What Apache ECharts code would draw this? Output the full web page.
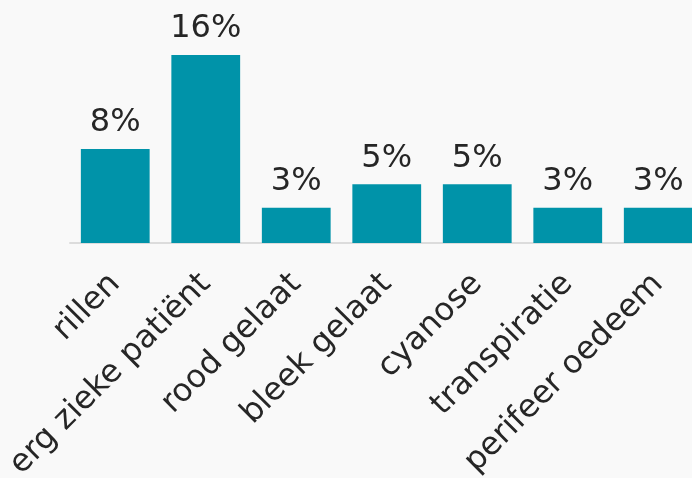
<!DOCTYPE html>
<html>
<head>
<meta charset="utf-8">
<script src="https://cdn.jsdelivr.net/npm/echarts@6/dist/echarts.min.js"></script>
<style>
  html, body { margin: 0; padding: 0; background: #f9f9f9; }
  #chart { width: 692px; height: 478px; }
</style>
</head>
<body>
<div id="chart"></div>
<script>
// Symptoms and the share of patients showing each one (percent)
const categories = ['rillen', 'erg zieke patiënt', 'rood gelaat', 'bleek gelaat', 'cyanose', 'transpiratie', 'perifeer oedeem'];
const percentages = [8, 16, 3, 5, 5, 3, 3];

const chart = echarts.init(document.getElementById('chart'));
chart.setOption({
  backgroundColor: '#f9f9f9',
  animation: false,
  grid: { left: 70, top: 55, right: -11.5, bottom: 235, outerBoundsMode: 'none', containLabel: false },
  xAxis: {
    type: 'category',
    data: categories,
    axisLine: { lineStyle: { color: '#dcdcdc', width: 2 } },
    axisTick: { show: false },
    axisLabel: {
      rotate: 45,
      interval: 0,
      margin: 36,
      fontFamily: 'DejaVu Sans',
      fontSize: 32,
      color: '#262626'
    }
  },
  yAxis: {
    type: 'value',
    min: 0,
    max: 16,
    show: false,
    splitLine: { show: false }
  },
  series: [{
    type: 'bar',
    data: percentages,
    barWidth: '76%',
    itemStyle: { color: '#0093a9' },
    label: {
      show: true,
      position: 'top',
      distance: 10,
      formatter: '{c}%',
      fontFamily: 'DejaVu Sans',
      fontSize: 32,
      color: '#262626'
    }
  }]
});
</script>
</body>
</html>
